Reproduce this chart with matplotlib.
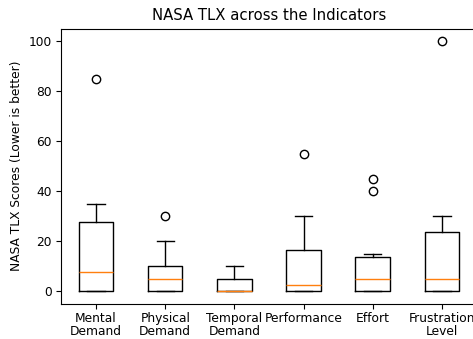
import matplotlib
matplotlib.use("Agg")
import matplotlib.pyplot as plt

labels = ["Mental\nDemand", "Physical\nDemand", "Temporal\nDemand", "Performance", "Effort", "Frustration\nLevel"]
q1 = [0, 0, 0, 0, 0, 0]
med = [7.5, 5, 0, 2.5, 5, 5]
q3 = [27.5, 10, 5, 16.25, 13.75, 23.75]
whislo = [0, 0, 0, 0, 0, 0]
whishi = [35, 20, 10, 30, 15, 30]
fliers = [[85], [30], [], [55], [40, 45], [100]]

stats = []
for i in range(len(labels)):
    stats.append({'label': labels[i], 'q1': q1[i], 'med': med[i], 'q3': q3[i],
                  'whislo': whislo[i], 'whishi': whishi[i], 'fliers': fliers[i]})

fig = plt.figure(figsize=(4.73, 3.39), dpi=100)
ax = fig.add_axes([0.1298, 0.1047, 0.8778, 0.8112])
ax.bxp(stats)
ax.set_ylim(-5, 105)
ax.tick_params(labelsize=8.8)
ax.tick_params(axis='x', pad=2.5)
for t in ax.get_xticklabels():
    t.set_linespacing(1.0)
ax.set_title('NASA TLX across the Indicators', fontsize=10.7)
ax.set_ylabel('NASA TLX Scores (Lower is better)', fontsize=8.8)

fig.savefig('out.png', dpi=100)
